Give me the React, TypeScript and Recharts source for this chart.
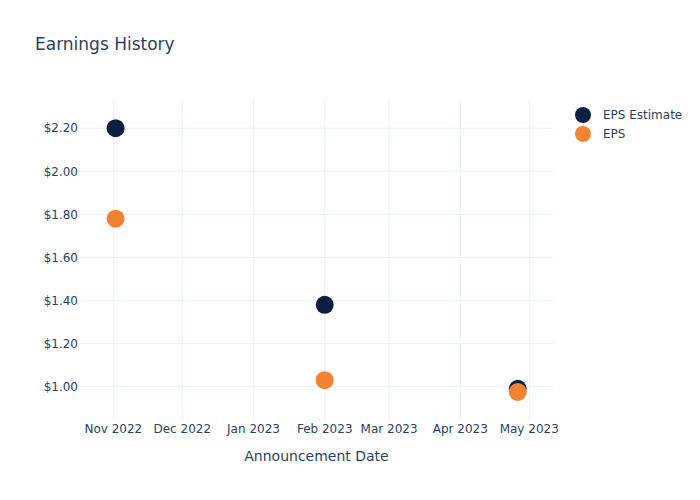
import React from 'react';
import {
  ScatterChart,
  Scatter,
  XAxis,
  YAxis,
  CartesianGrid,
  Label,
} from 'recharts';

const announcementDates = ['2022-11-02', '2023-02-01', '2023-04-26'];
const epsEstimate = [2.2, 1.38, 0.99];
const epsActual = [1.78, 1.03, 0.975];

const monthTicks = ['2022-11-01', '2022-12-01', '2023-01-01', '2023-02-01', '2023-03-01', '2023-04-01', '2023-05-01'];
const monthLabels = ['Nov 2022', 'Dec 2022', 'Jan 2023', 'Feb 2023', 'Mar 2023', 'Apr 2023', 'May 2023'];
const priceTicks = [1.0, 1.2, 1.4, 1.6, 1.8, 2.0, 2.2];

const ESTIMATE_COLOR = '#0b1f41';
const EPS_COLOR = '#f58233';
const TEXT = '#2a3f5f';
const FONT = '"DejaVu Sans", "Open Sans", sans-serif';

const ts = (d: string) => Date.parse(d + 'T00:00:00Z');

const estimateData = announcementDates.map((d, i) => ({ x: ts(d), y: epsEstimate[i] }));
const epsData = announcementDates.map((d, i) => ({ x: ts(d), y: epsActual[i] }));
const tickValues = monthTicks.map(ts);

const xDomain = [ts('2022-10-17') + 12 * 3600e3, ts('2023-05-11') + 8 * 3600e3];
const yDomain = [0.845, 2.331];

const dot = (color: string) => (props: any) => (
  <circle cx={props.cx} cy={props.cy} r={9} fill={color} />
);

const legendItems = [
  { name: 'EPS Estimate', color: ESTIMATE_COLOR },
  { name: 'EPS', color: EPS_COLOR },
];

// grid lines only at the tick values (no frame on the plot edges)
const hLines = ({ offset }: any) =>
  priceTicks.map((t) => offset.top + (offset.height * (yDomain[1] - t)) / (yDomain[1] - yDomain[0]));
const vLines = ({ offset }: any) =>
  tickValues.map((t) => offset.left + (offset.width * (t - xDomain[0])) / (xDomain[1] - xDomain[0]));

export default function App() {
  return (
    <div style={{ position: 'absolute', left: 0, top: 0, width: 700, height: 500, background: '#fff', fontFamily: FONT }}>
      <div style={{ position: 'absolute', left: 35, top: 34, fontSize: 17, color: TEXT }}>Earnings History</div>
      <div style={{ position: 'absolute', left: 574, top: 105 }}>
        {legendItems.map((item) => (
          <div key={item.name} style={{ display: 'flex', alignItems: 'center', height: 19, fontSize: 12, color: TEXT }}>
            <svg width={20} height={18}>
              <circle cx={9} cy={9} r={8} fill={item.color} />
            </svg>
            <span style={{ marginLeft: 9 }}>{item.name}</span>
          </div>
        ))}
      </div>
      <ScatterChart width={700} height={500} margin={{ top: 100, right: 147, bottom: 30, left: 0 }}>
        <CartesianGrid
          stroke="#ebf0f8"
          strokeWidth={1}
          horizontalCoordinatesGenerator={hLines}
          verticalCoordinatesGenerator={vLines}
        />
        <XAxis
          type="number"
          dataKey="x"
          domain={xDomain}
          ticks={tickValues}
          tickFormatter={(v: number) => monthLabels[tickValues.indexOf(v)] ?? ''}
          axisLine={false}
          tickLine={false}
          tickSize={0}
          tickMargin={4}
          height={50}
          tick={{ fill: TEXT, fontSize: 12, fontFamily: FONT }}
          interval={0}
        >
          <Label value="Announcement Date" position="insideBottom" offset={9} fill={TEXT} fontSize={14} fontFamily={FONT} />
        </XAxis>
        <YAxis
          type="number"
          dataKey="y"
          domain={yDomain}
          ticks={priceTicks}
          tickFormatter={(v: number) => '$' + v.toFixed(2)}
          axisLine={false}
          tickLine={false}
          tickSize={0}
          tickMargin={2}
          width={80}
          tick={{ fill: TEXT, fontSize: 12, fontFamily: FONT }}
          interval={0}
        />
        <Scatter name="EPS Estimate" data={estimateData} fill={ESTIMATE_COLOR} shape={dot(ESTIMATE_COLOR)} isAnimationActive={false} />
        <Scatter name="EPS" data={epsData} fill={EPS_COLOR} shape={dot(EPS_COLOR)} isAnimationActive={false} />
      </ScatterChart>
    </div>
  );
}
